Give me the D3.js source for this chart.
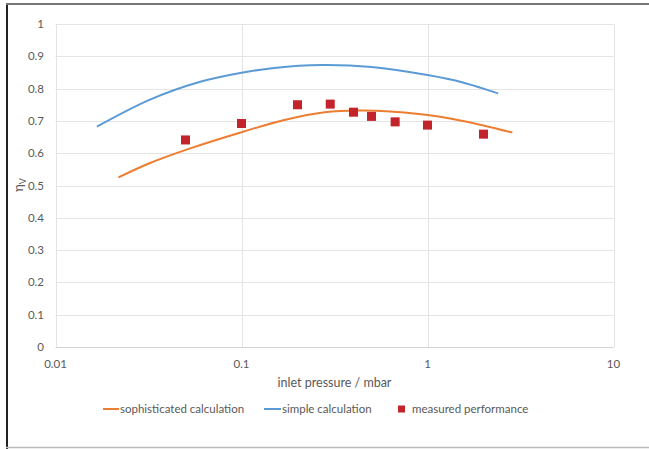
<!DOCTYPE html>
<html><head><meta charset="utf-8">
<script src="https://cdn.jsdelivr.net/npm/d3@7"></script>
<style>body{margin:0;background:#fff}svg{display:block}</style>
</head><body>
<script>
const sophX = [0.0218, 0.032, 0.053, 0.1, 0.17, 0.28, 0.45, 0.9, 1.55, 2.86];
const sophY = [0.525, 0.569, 0.615, 0.665, 0.703, 0.727, 0.732, 0.721, 0.700, 0.664];
const simpleX = [0.0167, 0.032, 0.06, 0.1, 0.15, 0.27, 0.5, 1.0, 1.55, 2.4];
const simpleY = [0.682, 0.765, 0.821, 0.849, 0.864, 0.873, 0.867, 0.842, 0.819, 0.785];
const measX = [0.05, 0.1, 0.2, 0.3, 0.4, 0.5, 0.67, 1, 2];
const measY = [0.641, 0.692, 0.750, 0.752, 0.727, 0.714, 0.697, 0.687, 0.659];
const xTicks = [0.01, 0.1, 1, 10];
const xTickLabels = ["0.01", "0.1", "1", "10"];
const yTicks = [0, 0.1, 0.2, 0.3, 0.4, 0.5, 0.6, 0.7, 0.8, 0.9, 1];
const legendLabels = ["sophisticated calculation", "simple calculation", "measured performance"];

const W = 649, H = 449;
const font = "Lato, 'Open Sans', sans-serif";
const svg = d3.select("body").append("svg").attr("width", W).attr("height", H);

// frame
svg.append("line").attr("x1", 7).attr("x2", 7).attr("y1", 3).attr("y2", 449).attr("stroke", "#222").attr("stroke-width", 2);
svg.append("line").attr("x1", 6).attr("x2", 649).attr("y1", 4).attr("y2", 4).attr("stroke", "#777").attr("stroke-width", 2);
svg.append("line").attr("x1", 6).attr("x2", 649).attr("y1", 447.5).attr("y2", 447.5).attr("stroke", "#bbb").attr("stroke-width", 1.5);

const x = d3.scaleLog().domain([0.01, 10]).range([55.5, 613.5]);
const y = d3.scaleLinear().domain([0, 1]).range([347, 24]);

// gridlines
svg.append("g").selectAll("line").data(yTicks.filter(d => d > 0)).join("line")
  .attr("x1", x(0.01)).attr("x2", x(10)).attr("y1", d => Math.round(y(d)) + 0.5).attr("y2", d => Math.round(y(d)) + 0.5)
  .attr("stroke", "#e4e4e4").attr("stroke-width", 1);
svg.append("g").selectAll("line").data(xTicks).join("line")
  .attr("x1", d => Math.round(x(d)) + 0.5).attr("x2", d => Math.round(x(d)) + 0.5).attr("y1", y(1)).attr("y2", y(0))
  .attr("stroke", "#e4e4e4").attr("stroke-width", 1);
svg.append("line").attr("x1", x(0.01)).attr("x2", x(10)).attr("y1", Math.round(y(0)) + 0.5).attr("y2", Math.round(y(0)) + 0.5)
  .attr("stroke", "#d4d4d4");

// y tick labels
svg.append("g").selectAll("text").data(yTicks).join("text")
  .attr("x", 44).attr("y", d => y(d)).attr("dy", "0.35em").attr("text-anchor", "end")
  .attr("font-family", font).attr("font-size", 11.5).attr("fill", "#595959").text(d => d3.format("~g")(d));
// x tick labels
svg.append("g").selectAll("text").data(xTicks).join("text")
  .attr("x", d => x(d)).attr("y", 368).attr("text-anchor", "middle")
  .attr("font-family", font).attr("font-size", 11.5).attr("fill", "#595959").text((d, i) => xTickLabels[i]);

// axis titles
svg.append("text").attr("x", x(Math.sqrt(0.1))).attr("y", 387).attr("text-anchor", "middle")
  .attr("font-family", font).attr("font-size", 12.5).attr("fill", "#595959").text("inlet pressure / mbar");
const yt = svg.append("text").attr("transform", "translate(23,185) rotate(-90)").attr("text-anchor", "middle")
  .attr("font-family", font).attr("font-size", 13).attr("fill", "#595959");
yt.append("tspan").text("η");
yt.append("tspan").attr("dy", 3).attr("font-size", 9).text("V");

// lines
const line = d3.line().x(d => x(d[0])).y(d => y(d[1])).curve(d3.curveCatmullRom.alpha(0.5));
svg.append("path").datum(sophX.map((v, i) => [v, sophY[i]])).attr("d", line)
  .attr("fill", "none").attr("stroke", "#ED7D31").attr("stroke-width", 2);
svg.append("path").datum(simpleX.map((v, i) => [v, simpleY[i]])).attr("d", line)
  .attr("fill", "none").attr("stroke", "#5B9BD5").attr("stroke-width", 2);

// measured squares
const s = 9;
svg.append("g").selectAll("rect").data(measX.map((v, i) => [v, measY[i]])).join("rect")
  .attr("x", d => x(d[0]) - s / 2).attr("y", d => y(d[1]) - s / 2).attr("width", s).attr("height", s)
  .attr("fill", "#C3232A");

// legend
const ly = 409;
const lg = svg.append("g").attr("font-family", font).attr("font-size", 11.5).attr("fill", "#595959");
lg.append("line").attr("x1", 103).attr("x2", 119).attr("y1", ly).attr("y2", ly).attr("stroke", "#ED7D31").attr("stroke-width", 2);
lg.append("text").attr("x", 120).attr("y", ly).attr("dy", "0.35em").text(legendLabels[0]);
lg.append("line").attr("x1", 264).attr("x2", 281).attr("y1", ly).attr("y2", ly).attr("stroke", "#5B9BD5").attr("stroke-width", 2);
lg.append("text").attr("x", 282).attr("y", ly).attr("dy", "0.35em").text(legendLabels[1]);
lg.append("rect").attr("x", 398).attr("y", ly - 3.5).attr("width", 7).attr("height", 7).attr("fill", "#C3232A");
lg.append("text").attr("x", 412).attr("y", ly).attr("dy", "0.35em").text(legendLabels[2]);
</script>
</body></html>
